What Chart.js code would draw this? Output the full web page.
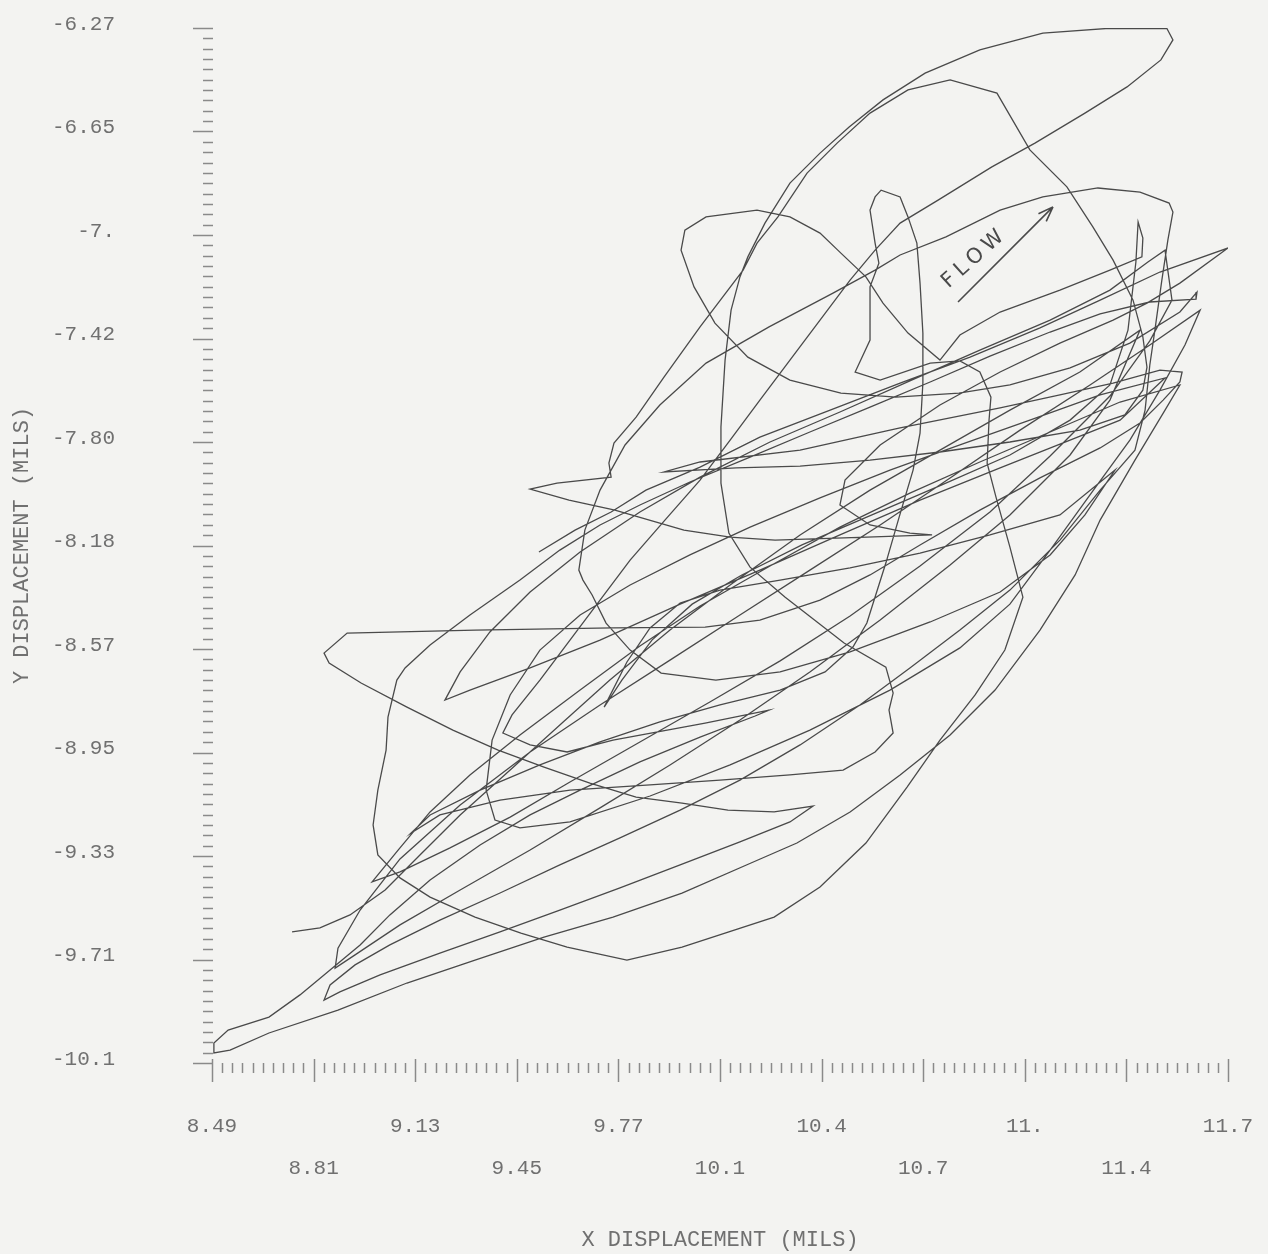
<!DOCTYPE html>
<html>
<head>
<meta charset="utf-8">
<title>X-Y displacement orbit</title>
<script src="https://cdn.jsdelivr.net/npm/chart.js@4.4.1/dist/chart.umd.min.js"></script>
<style>
  html, body { margin: 0; padding: 0; background: #f3f3f1; }
  #orbit { display: block; }
</style>
</head>
<body>
<canvas id="orbit" width="1268" height="1254"></canvas>
<script>
// tick labels as printed by the plotter
const xTickLabels = ['8.49', '8.81', '9.13', '9.45', '9.77', '10.1', '10.4', '10.7', '11.', '11.4', '11.7'];
const yTickLabels = ['-10.1', '-9.71', '-9.33', '-8.95', '-8.57', '-8.18', '-7.80', '-7.42', '-7.', '-6.65', '-6.27'];

// probe orbit, X displacement (mils), in plotting order
const xDisp = [
  9.523, 9.637, 9.751, 9.861, 10.032, 10.221, 10.443, 10.664, 10.885, 11.106, 11.296, 11.485, 11.700,
  11.548, 11.444, 11.337, 11.169, 10.980, 10.790, 10.601, 10.490, 10.474, 10.569, 10.695, 10.765,
  10.559, 10.269, 10.127, 9.981, 9.763, 9.618, 9.495,
  9.580, 9.751, 9.744, 9.760, 9.830, 9.918, 10.032, 10.168, 10.212, 10.278, 10.370, 10.465, 10.569, 10.689,
  10.822, 10.970, 11.074, 11.191, 11.273, 11.337, 11.400, 11.431, 11.444, 11.431, 11.374, 11.232, 11.011,
  10.790, 10.569, 10.348, 10.146, 9.918, 10.032, 10.348, 10.664, 10.980, 11.169, 11.337, 11.485, 11.555,
  11.548, 11.495, 11.422, 11.296, 11.106, 10.916, 10.727, 10.569, 10.411, 10.221, 10.048, 9.757, 9.321, 8.917, 8.844,
  8.860, 8.961, 9.106, 9.251, 9.394, 9.539, 9.684, 9.830, 9.975, 10.120, 10.266, 10.389,
  10.316, 10.158, 9.969, 9.779, 9.589, 9.400, 9.210, 9.021, 8.894, 8.844,
  8.863, 8.942, 9.052, 9.210, 9.400, 9.589, 9.779, 9.969, 10.158, 10.348, 10.537, 10.695, 10.853, 11.011, 11.169, 11.296, 11.406,
  11.438, 11.453, 11.469, 11.491, 11.510, 11.526, 11.514, 11.422, 11.289, 11.115, 10.980, 10.809, 10.664, 10.585,
  10.452, 10.250, 10.051, 9.905, 9.795, 9.716, 9.668,
  9.649, 9.662, 9.691, 9.735, 9.811, 9.909, 10.082, 10.285, 10.506, 10.759, 10.980, 11.138, 11.248, 11.343,
  11.169, 10.948, 10.727, 10.506, 10.285, 10.095, 9.969, 9.874, 9.801, 9.729, 9.785, 9.880, 10.007, 10.164, 10.354,
  10.575, 10.796, 11.011, 11.201, 11.327, 11.384, 11.409, 11.416, 11.431, 11.428, 11.327, 11.169, 10.980, 10.853, 10.790,
  10.689, 10.610, 10.556, 10.477, 10.411, 10.316, 10.212, 10.051, 9.984, 9.972, 10.013, 10.079, 10.183, 10.316,
  10.477, 10.651, 10.850, 11.011, 11.201, 11.390, 11.548, 11.602,
  11.599, 11.453, 11.296, 11.138, 10.948, 10.759, 10.569, 10.379, 10.190, 10.000, 9.842, 9.716, 9.589, 9.463,
  9.305, 9.179, 9.100, 9.074,
  9.046, 9.040, 9.014, 8.999, 9.014, 9.084, 9.179, 9.321, 9.466, 9.612, 9.801, 9.975, 10.266, 10.411, 10.556,
  10.686, 10.790, 10.901, 10.995, 11.052, 11.011, 10.967, 10.939, 10.945, 10.951, 10.916, 10.853, 10.759, 10.601,
  10.522, 10.569, 10.569, 10.569, 10.597, 10.585, 10.569, 10.585, 10.604, 10.664, 10.689, 10.717, 10.727, 10.736,
  10.736, 10.727, 10.705, 10.661, 10.619, 10.559, 10.515, 10.427, 10.285, 10.095, 9.905, 9.716, 9.526, 9.337, 9.179, 9.119,
  9.210, 9.400, 9.621, 9.874, 10.095, 10.316, 10.484, 10.585, 10.642, 10.629, 10.642, 10.619, 10.487, 10.300,
  10.190, 10.123, 10.098, 10.098, 10.111, 10.130, 10.158, 10.183, 10.237, 10.316, 10.411, 10.503, 10.610, 10.743,
  10.916, 11.115, 11.314, 11.507, 11.526, 11.488, 11.381, 11.248, 11.090, 10.954, 10.784, 10.664, 10.585, 10.506,
  10.411, 10.316, 10.221, 10.127, 10.032, 9.921, 9.811, 9.716, 9.621, 9.526, 9.438, 9.409,
  9.495, 9.612, 9.757, 10.048, 10.250, 10.206, 10.032, 9.842, 9.653, 9.495,
  9.337, 9.179, 9.052, 8.958, 8.863, 8.768, 8.670, 8.541, 8.496, 8.496, 8.547, 8.670, 8.888, 9.106, 9.321, 9.539,
  9.757, 9.975, 10.193, 10.338, 10.506, 10.664, 10.822, 10.964, 11.106, 11.217, 11.296,
  11.406, 11.501, 11.548,
  11.359, 11.138, 10.916, 10.695, 10.474, 10.253, 10.032, 9.842, 9.653, 9.463, 9.305, 9.179, 9.078, 8.996,
  9.084, 9.242, 9.432, 9.621, 9.842, 10.063, 10.285, 10.506, 10.727, 10.948, 11.138, 11.327, 11.453, 11.523, 11.501,
  11.447, 11.327, 11.138, 10.916, 10.695, 10.474, 10.253, 10.032, 9.842, 9.653, 9.495, 9.368, 9.274, 9.226,
  9.305, 9.495, 9.716, 9.969, 10.221, 10.474, 10.727, 10.980, 11.201, 11.359,
  11.501, 11.296, 11.074, 10.853, 10.632, 10.411, 10.190, 10.000, 9.811, 9.653, 9.526, 9.432, 9.375, 9.356, 9.384,
  9.463, 9.621, 9.874, 10.127, 10.379, 10.632, 10.853, 11.011, 11.138, 11.264, 11.390, 11.485, 11.564, 11.612,
  11.453, 11.264, 11.043, 10.822, 10.601, 10.379, 10.158, 9.937, 9.716, 9.495, 9.274, 9.084, 8.958, 8.888, 8.879,
  8.942, 9.084, 9.274, 9.495, 9.716, 9.937, 10.158, 10.379, 10.601, 10.822, 11.011, 11.201, 11.327,
  11.422, 11.232, 11.011, 10.790, 10.569, 10.348, 10.127, 9.937, 9.747, 9.589, 9.432, 9.274, 9.147, 9.037, 8.926, 8.831, 8.743
];

// probe orbit, Y displacement (mils), same order
const yDisp = [
  -8.209, -8.128, -8.061, -7.980, -7.895, -7.784, -7.684, -7.584, -7.488, -7.380, -7.277, -7.173, -7.084,
  -7.214, -7.288, -7.351, -7.436, -7.543, -7.665, -7.813, -7.943, -8.035, -8.109, -8.139, -8.146,
  -8.154, -8.165, -8.154, -8.128, -8.054, -8.017, -7.976,
  -7.954, -7.932, -7.880, -7.806, -7.710, -7.562, -7.376, -7.166, -7.066, -6.969, -6.807, -6.696, -6.585, -6.499,
  -6.462, -6.511, -6.721, -6.858, -7.006, -7.129, -7.277, -7.413, -7.525, -7.610, -7.702, -7.758, -7.802,
  -7.839, -7.869, -7.891, -7.898, -7.913, -7.876, -7.832, -7.750, -7.676, -7.628, -7.584, -7.536, -7.543,
  -7.580, -7.647, -7.732, -7.824, -7.935, -8.054, -8.183, -8.294, -8.387, -8.461, -8.487, -8.490, -8.498, -8.509, -8.583,
  -8.620, -8.694, -8.783, -8.868, -8.942, -9.005, -9.064, -9.116, -9.138, -9.164, -9.171, -9.149,
  -9.208, -9.282, -9.367, -9.452, -9.534, -9.615, -9.693, -9.774, -9.837, -9.867,
  -9.811, -9.737, -9.663, -9.571, -9.471, -9.367, -9.267, -9.164, -9.053, -8.923, -8.775, -8.638, -8.498, -8.350, -8.165, -7.980, -7.832,
  -7.684, -7.517, -7.388, -7.203, -7.055, -6.951, -6.918, -6.877, -6.862, -6.895, -6.944, -7.043, -7.110, -7.166,
  -7.251, -7.376, -7.510, -7.665, -7.813, -7.980, -8.128,
  -8.276, -8.313, -8.368, -8.472, -8.572, -8.657, -8.683, -8.653, -8.579, -8.468, -8.357, -8.220, -8.072, -7.906,
  -8.072, -8.146, -8.213, -8.268, -8.313, -8.350, -8.398, -8.490, -8.616, -8.783, -8.683, -8.535, -8.402, -8.294, -8.183,
  -8.072, -7.961, -7.850, -7.721, -7.591, -7.388, -7.136, -6.988, -7.047, -7.117, -7.166, -7.240, -7.321, -7.406, -7.499,
  -7.399, -7.288, -7.191, -7.103, -7.029, -6.969, -6.944, -6.969, -7.018, -7.092, -7.228, -7.362, -7.488, -7.573,
  -7.621, -7.636, -7.621, -7.591, -7.528, -7.436, -7.321, -7.247,
  -7.273, -7.284, -7.328, -7.395, -7.484, -7.580, -7.673, -7.765, -7.858, -7.950, -8.035, -8.109, -8.202, -8.313,
  -8.442, -8.553, -8.638, -8.683,
  -8.820, -8.942, -9.090, -9.219, -9.330, -9.415, -9.486, -9.560, -9.619, -9.671, -9.719, -9.671, -9.560, -9.449, -9.286,
  -9.079, -8.905, -8.738, -8.572, -8.376, -8.191, -8.006, -7.880, -7.721, -7.636, -7.543, -7.502, -7.510, -7.573,
  -7.543, -7.425, -7.314, -7.228, -7.140, -7.066, -6.944, -6.895, -6.870, -6.895, -6.969, -7.066, -7.214, -7.399,
  -7.584, -7.769, -7.906, -8.080, -8.250, -8.472, -8.561, -8.653, -8.720, -8.775, -8.838, -8.912, -8.997, -9.090, -9.182, -9.249,
  -9.182, -9.127, -9.090, -9.071, -9.053, -9.034, -9.016, -8.949, -8.879, -8.794, -8.731, -8.635, -8.546, -8.376,
  -8.265, -8.139, -7.954, -7.747, -7.499, -7.314, -7.191, -7.117, -6.992, -6.844, -6.733, -6.636, -6.536, -6.437,
  -6.351, -6.289, -6.272, -6.272, -6.314, -6.388, -6.488, -6.585, -6.696, -6.784, -6.907, -6.992, -7.092, -7.203,
  -7.351, -7.499, -7.647, -7.795, -7.943, -8.091, -8.239, -8.387, -8.535, -8.683, -8.812, -8.879,
  -8.923, -8.949, -8.905, -8.842, -8.794, -8.816, -8.894, -8.986, -9.090, -9.182,
  -9.293, -9.423, -9.552, -9.663, -9.756, -9.848, -9.930, -9.978, -10.026, -10.063, -10.052, -9.989, -9.904, -9.804, -9.719, -9.634,
  -9.560, -9.471, -9.360, -9.286, -9.171, -9.034, -8.886, -8.720, -8.498, -8.294, -8.091,
  -7.869, -7.684, -7.591,
  -7.654, -7.765, -7.876, -7.991, -8.117, -8.261, -8.409, -8.557, -8.720, -8.886, -9.034, -9.171, -9.312, -9.430,
  -9.393, -9.304, -9.190, -9.060, -8.912, -8.764, -8.612, -8.446, -8.261, -8.061, -7.854, -7.632, -7.428, -7.277, -7.092,
  -7.136, -7.240, -7.351, -7.462, -7.576, -7.691, -7.802, -7.932, -8.061, -8.209, -8.357, -8.505, -8.653, -8.757,
  -8.720, -8.638, -8.535, -8.402, -8.276, -8.146, -8.017, -7.898, -7.795, -7.721,
  -7.565, -7.628, -7.721, -7.813, -7.906, -8.009, -8.117, -8.220, -8.331, -8.442, -8.572, -8.738, -8.905, -9.090, -9.201,
  -9.230, -9.208, -9.112, -8.997, -8.868, -8.720, -8.564, -8.402, -8.202, -7.998, -7.795, -7.610, -7.443, -7.314,
  -7.443, -7.591, -7.758, -7.935, -8.109, -8.276, -8.442, -8.609, -8.775, -8.949, -9.145, -9.345, -9.534, -9.675, -9.749,
  -9.700, -9.589, -9.460, -9.312, -9.156, -8.997, -8.831, -8.653, -8.461, -8.257, -8.072, -7.850, -7.647,
  -7.388, -7.543, -7.684, -7.832, -7.980, -8.146, -8.331, -8.498, -8.683, -8.849, -9.016, -9.182, -9.330, -9.460, -9.552, -9.600, -9.615
];

// hand-lettered flow note, placed in data units
const flowNote = { x: 10.90, y: -7.12, angle: -42 };
const flowArrow = { x0: 10.847, y0: -7.284, x1: 11.147, y1: -6.932 };

const paperColor = '#f3f3f1';
const penColor = '#4a4a4a';
const labelColor = '#707070';
const tickColor = '#8a8a8a';
const monoFont = '"Liberation Mono", "DejaVu Sans Mono", monospace';

// 10 minor divisions between each labelled tick
const xTickValues = [];
const yTickValues = [];
for (let i = 0; i <= 100; i++) {
  xTickValues.push(+(8.49 + i * 0.0321).toFixed(4));
  yTickValues.push(+(-10.1 + i * 0.0383).toFixed(4));
}

const orbit = xDisp.map((x, i) => ({ x: x, y: yDisp[i] }));

const plotterAxes = {
  id: 'plotterAxes',
  beforeDraw(chart) {
    const ctx = chart.ctx;
    ctx.save();
    ctx.fillStyle = paperColor;
    ctx.fillRect(0, 0, chart.width, chart.height);
    ctx.restore();
  },
  beforeDatasetsDraw(chart) {
    const { ctx, chartArea } = chart;
    const xs = chart.scales.x, ys = chart.scales.y;
    ctx.save();
    ctx.strokeStyle = tickColor;
    ctx.lineWidth = 1.5;
    ctx.beginPath();
    ys.ticks.forEach((t, i) => {
      const py = Math.round(ys.getPixelForValue(t.value)) + 0.5;
      const len = i % 10 === 0 ? 19 : 9;
      ctx.moveTo(chartArea.left - len, py);
      ctx.lineTo(chartArea.left + 1, py);
    });
    xs.ticks.forEach((t, i) => {
      const px = Math.round(xs.getPixelForValue(t.value)) + 0.5;
      const major = i % 10 === 0;
      ctx.moveTo(px, chartArea.bottom - (major ? 4 : 0));
      ctx.lineTo(px, chartArea.bottom + (major ? 19 : 10));
    });
    ctx.stroke();
    ctx.restore();
  },
  afterDatasetsDraw(chart) {
    const ctx = chart.ctx;
    const xs = chart.scales.x, ys = chart.scales.y;
    ctx.save();
    ctx.fillStyle = '#4a4a4a';
    ctx.strokeStyle = '#4a4a4a';
    ctx.lineWidth = 1.6;

    // arrow underneath the lettering
    const ax0 = xs.getPixelForValue(flowArrow.x0), ay0 = ys.getPixelForValue(flowArrow.y0);
    const ax1 = xs.getPixelForValue(flowArrow.x1), ay1 = ys.getPixelForValue(flowArrow.y1);
    const ang = Math.atan2(ay1 - ay0, ax1 - ax0);
    ctx.beginPath();
    ctx.moveTo(ax0, ay0);
    ctx.lineTo(ax1, ay1);
    ctx.moveTo(ax1, ay1);
    ctx.lineTo(ax1 - 16 * Math.cos(ang - 0.35), ay1 - 16 * Math.sin(ang - 0.35));
    ctx.moveTo(ax1, ay1);
    ctx.lineTo(ax1 - 16 * Math.cos(ang + 0.35), ay1 - 16 * Math.sin(ang + 0.35));
    ctx.stroke();

    ctx.translate(xs.getPixelForValue(flowNote.x), ys.getPixelForValue(flowNote.y));
    ctx.rotate(flowNote.angle * Math.PI / 180);
    ctx.font = '21px "DejaVu Sans"';
    ctx.letterSpacing = '5px';
    ctx.textAlign = 'center';
    ctx.textBaseline = 'middle';
    ctx.fillText('FLOW', 0, 0);
    ctx.restore();
  }
};

new Chart(document.getElementById('orbit').getContext('2d'), {
  type: 'scatter',
  data: {
    datasets: [{
      data: orbit,
      showLine: true,
      borderColor: penColor,
      borderWidth: 1.3,
      pointRadius: 0,
      tension: 0,
      fill: false
    }]
  },
  options: {
    responsive: false,
    animation: false,
    devicePixelRatio: 1,
    layout: { padding: { top: 28, right: 40, bottom: 0, left: 0 } },
    plugins: { legend: { display: false }, tooltip: { enabled: false } },
    scales: {
      x: {
        type: 'linear',
        min: 8.49,
        max: 11.70,
        afterBuildTicks: scale => { scale.ticks = xTickValues.map(v => ({ value: v })); },
        afterFit: scale => {
          scale.height = 191;
          scale.paddingLeft = 0;
          scale.paddingRight = 0;
        },
        grid: { display: false },
        border: { display: false },
        ticks: {
          autoSkip: false,
          maxRotation: 0,
          minRotation: 0,
          padding: 34,
          color: labelColor,
          font: { family: monoFont, size: 21, lineHeight: 2 },
          callback: (value, index) => {
            if (index % 10 !== 0) return '';
            const k = index / 10;
            return k % 2 ? ['', xTickLabels[k]] : xTickLabels[k];
          }
        },
        title: {
          display: true,
          text: 'X DISPLACEMENT (MILS)',
          color: labelColor,
          font: { family: monoFont, size: 22 },
          padding: { top: 0, bottom: 1 }
        }
      },
      y: {
        type: 'linear',
        min: -10.1,
        max: -6.27,
        afterBuildTicks: scale => { scale.ticks = yTickValues.map(v => ({ value: v })); },
        afterFit: scale => {
          scale.width = 212;
          scale.paddingTop = 0;
          scale.paddingBottom = 0;
        },
        grid: { display: false },
        border: { display: false },
        ticks: {
          autoSkip: false,
          padding: 89,
          labelOffset: -4,
          color: labelColor,
          font: { family: monoFont, size: 21 },
          callback: (value, index) => index % 10 === 0 ? yTickLabels[index / 10] : ''
        },
        title: {
          display: true,
          text: 'Y DISPLACEMENT (MILS)',
          color: labelColor,
          font: { family: monoFont, size: 22 },
          padding: { top: 9, bottom: 0 }
        }
      }
    }
  },
  plugins: [plotterAxes]
});
</script>
</body>
</html>
